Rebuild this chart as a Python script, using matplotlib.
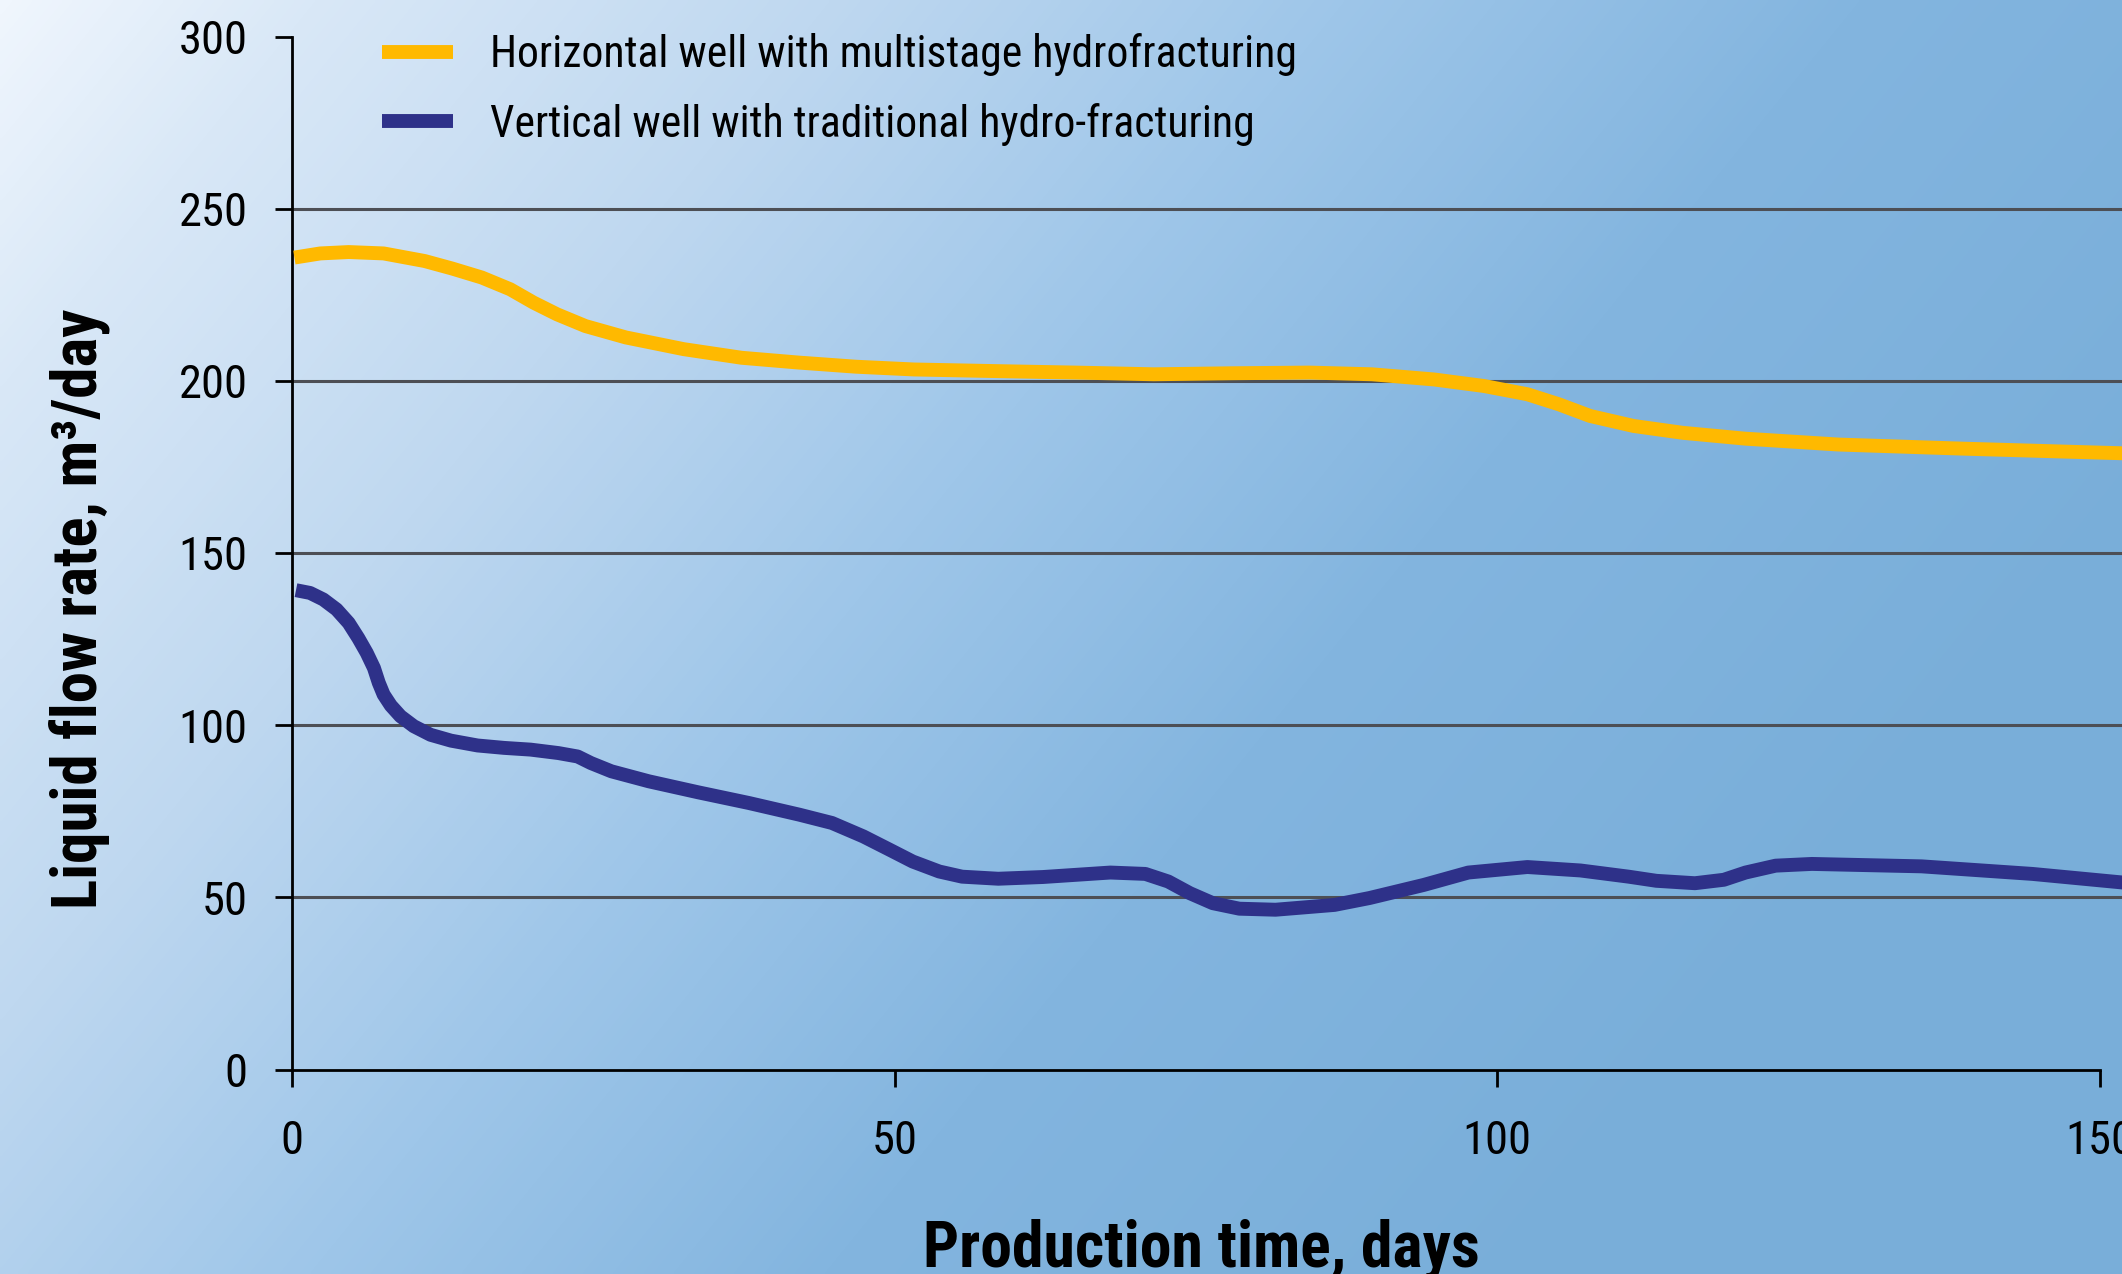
import numpy as np
import matplotlib
matplotlib.use("Agg")
import matplotlib.pyplot as plt
from matplotlib import font_manager
from matplotlib.colors import LinearSegmentedColormap

# ---------------- data ----------------
horiz_days = [0.2, 2.35, 4.7, 7.6, 11.0, 13.3, 15.75, 18.1, 20.05, 22.0, 24.35, 27.7,
              32.5, 37.3, 42.05, 46.8, 51.6, 58.8, 65.0, 71.5, 78.0, 84.4, 89.6, 94.75,
              98.9, 102.5, 105.1, 107.7, 111.3, 115.4, 120.6, 128.3, 138.7, 152.5]
horiz_rate = [235.8, 237.0, 237.4, 237.0, 234.8, 232.6, 230.0, 226.6, 222.7, 219.3, 215.9,
              212.6, 209.2, 206.7, 205.3, 204.1, 203.3, 202.8, 202.4, 201.9, 202.2, 202.4,
              201.9, 200.4, 198.5, 196.1, 193.2, 189.8, 186.9, 184.9, 183.2, 181.5, 180.3,
              178.9]

vert_days = [0.33, 1.5, 2.6, 3.7, 4.7, 5.5, 6.2, 6.8, 7.2, 7.6, 8.2, 9.0, 10.1, 11.5,
             13.2, 15.4, 17.6, 19.8, 22.1, 23.7, 24.8, 26.5, 29.6, 33.7, 37.9, 42.1, 44.8,
             47.4, 49.6, 51.5, 53.7, 55.6, 58.6, 62.3, 67.9, 70.8, 72.7, 74.5, 76.4,
             78.6, 81.6, 86.5, 89.4, 93.9, 97.6, 102.5, 106.9, 110.9, 113.2, 116.4, 118.8,
             120.6, 123.1, 126.1, 135.2, 144.4, 152.5]
vert_rate = [139.2, 138.4, 136.5, 133.6, 129.7, 125.3, 121.0, 116.6, 112.3, 108.9, 105.7,
             102.6, 99.7, 97.2, 95.5, 94.1, 93.4, 92.9, 91.9, 90.9, 89.0, 86.6, 83.7, 80.5,
             77.4, 74.0, 71.6, 67.7, 63.8, 60.4, 57.5, 56.0, 55.4, 55.9, 57.2, 56.8,
             54.6, 51.2, 48.3, 46.7, 46.4, 47.8, 49.8, 53.6, 57.2, 58.8, 57.8, 56.0, 54.8,
             54.1, 55.1, 57.2, 59.2, 59.7, 59.0, 56.8, 54.1]

series_labels = ["Horizontal well with multistage hydrofracturing",
                 "Vertical well with traditional hydro-fracturing"]
y_label = "Liquid flow rate, m\u00b3/day"
x_label = "Production time, days"
y_ticks = [0, 50, 100, 150, 200, 250, 300]
x_ticks = [0, 50, 100, 150]
grid_levels = [50, 100, 150, 200, 250]

# ---------------- fonts ----------------
def _w(x):
    if isinstance(x, (int, float)):
        return int(x)
    m = {"normal": 400, "regular": 400, "book": 400, "medium": 500, "bold": 700,
         "semibold": 600, "demibold": 600, "heavy": 800, "black": 900, "light": 300}
    return m.get(str(x).lower(), 400)


def pick_family(cands, bold):
    for c in cands:
        ws = [_w(f.weight) for f in font_manager.fontManager.ttflist
              if f.name == c and f.style == "normal"]
        if not ws:
            continue
        if bold and max(ws) < 700:
            continue
        if not bold and min(abs(w - 400) for w in ws) > 100:
            continue
        return c
    return "DejaVu Sans"


cands = ["Roboto Condensed", "Archivo Narrow", "Liberation Sans Narrow", "Arial Narrow",
         "PT Sans Narrow", "IBM Plex Sans Condensed", "Open Sans Condensed"]
fam_reg = pick_family(cands, False)
fam_bold = pick_family(cands, True)
plt.rcParams["font.family"] = [fam_reg, "DejaVu Sans"]

W, H = 2122, 1274
fig = plt.figure(figsize=(W / 100, H / 100), dpi=100)
renderer = fig.canvas.get_renderer()


def fit_size(s, family, weight, target_w, max_size):
    t = fig.text(0, 0, s, fontsize=40, family=[family, "DejaVu Sans"], fontweight=weight)
    w = t.get_window_extent(renderer).width
    t.remove()
    return min(max_size, 40 * target_w / w)


fs_tick = fit_size("300", fam_reg, "normal", 69, 40)
fs_leg = fit_size(series_labels[0], fam_reg, "normal", 806, 40)
fs_ylab = fit_size(y_label, fam_bold, "bold", 600, 48)
fs_xlab = fit_size(x_label, fam_bold, "bold", 556, 48)

# ---------------- background gradient ----------------
bg = fig.add_axes([0, 0, 1, 1], zorder=-10)
u = np.linspace(0, 1, 600)[None, :]
v = np.linspace(0, 1, 360)[:, None]
t = np.clip(0.82 * u + 0.4 * v, 0, 1)
cmap = LinearSegmentedColormap.from_list(
    "bg", [(0.0, "#f0f6fd"), (0.12, "#d9e8f7"), (0.32, "#bfd8f0"),
           (0.52, "#9ec6e9"), (0.72, "#83b5df"), (1.0, "#79aed9")])
bg.imshow(t, cmap=cmap, aspect="auto", extent=[0, 1, 0, 1], origin="upper",
          interpolation="bilinear")
bg.set_axis_off()

# ---------------- main axes ----------------
left, bottom, top = 292 / W, 1 - 1069.5 / H, 1 - 36.5 / H
ax = fig.add_axes([left, bottom, 1 - left, top - bottom])
ax.set_facecolor("none")
ax.set_xlim(0, 150 + 22 / 12)
ax.set_ylim(0, 300)

for g in grid_levels:
    ax.axhline(g, color="#4d4f55", lw=2.2, zorder=1)

ax.plot(horiz_days, horiz_rate, color="#FFB900", lw=10, solid_capstyle="butt",
        solid_joinstyle="round", zorder=3, label=series_labels[0], clip_on=False)
ax.plot(vert_days, vert_rate, color="#2E3189", lw=10, solid_capstyle="butt",
        solid_joinstyle="round", zorder=3, label=series_labels[1], clip_on=False)

for s in ["top", "right"]:
    ax.spines[s].set_visible(False)
ax.spines["left"].set_bounds(0, 300)
ax.spines["bottom"].set_bounds(0, 150)
for s in ["left", "bottom"]:
    ax.spines[s].set_linewidth(2)
    ax.spines[s].set_color("black")

ax.set_xticks(x_ticks)
ax.set_yticks(y_ticks)
ax.set_xticklabels([str(x) for x in x_ticks])
ax.set_yticklabels([str(y) for y in y_ticks])
ax.tick_params(axis="both", direction="out", length=12, width=2, colors="black",
               labelsize=fs_tick)
ax.tick_params(axis="x", pad=24)
ax.tick_params(axis="y", pad=20)

# ---------------- legend (tuned to measured positions) ----------------
fs_px = fs_leg * 100 / 72
ls = 0.3
anchor_y = 1 - 20 / H
for _ in range(3):
    leg = ax.legend(loc="upper left", bbox_to_anchor=(382 / W, anchor_y),
                    bbox_transform=fig.transFigure, frameon=False, fontsize=fs_leg,
                    handlelength=71 / fs_px, handletextpad=37 / fs_px,
                    labelspacing=ls, borderpad=0, borderaxespad=0)
    fig.canvas.draw()
    e = [tx.get_window_extent(renderer) for tx in leg.get_texts()]
    c0 = H - (e[0].y0 + e[0].y1) / 2
    c1 = H - (e[1].y0 + e[1].y1) / 2
    ls += (69 - (c1 - c0)) / fs_px
    anchor_y += (c0 - 55) / H
for ln in leg.get_lines():
    ln.set_linewidth(10)

fig.text(79 / W, 1 - 609 / H, y_label, rotation=90, ha="center", va="center",
         fontsize=fs_ylab, fontweight="bold", family=[fam_bold, "DejaVu Sans"])
fig.text(1201 / W, 1 - 1267 / H, x_label, ha="center", va="baseline",
         fontsize=fs_xlab, fontweight="bold", family=[fam_bold, "DejaVu Sans"])

fig.savefig("out.png", dpi=100)
